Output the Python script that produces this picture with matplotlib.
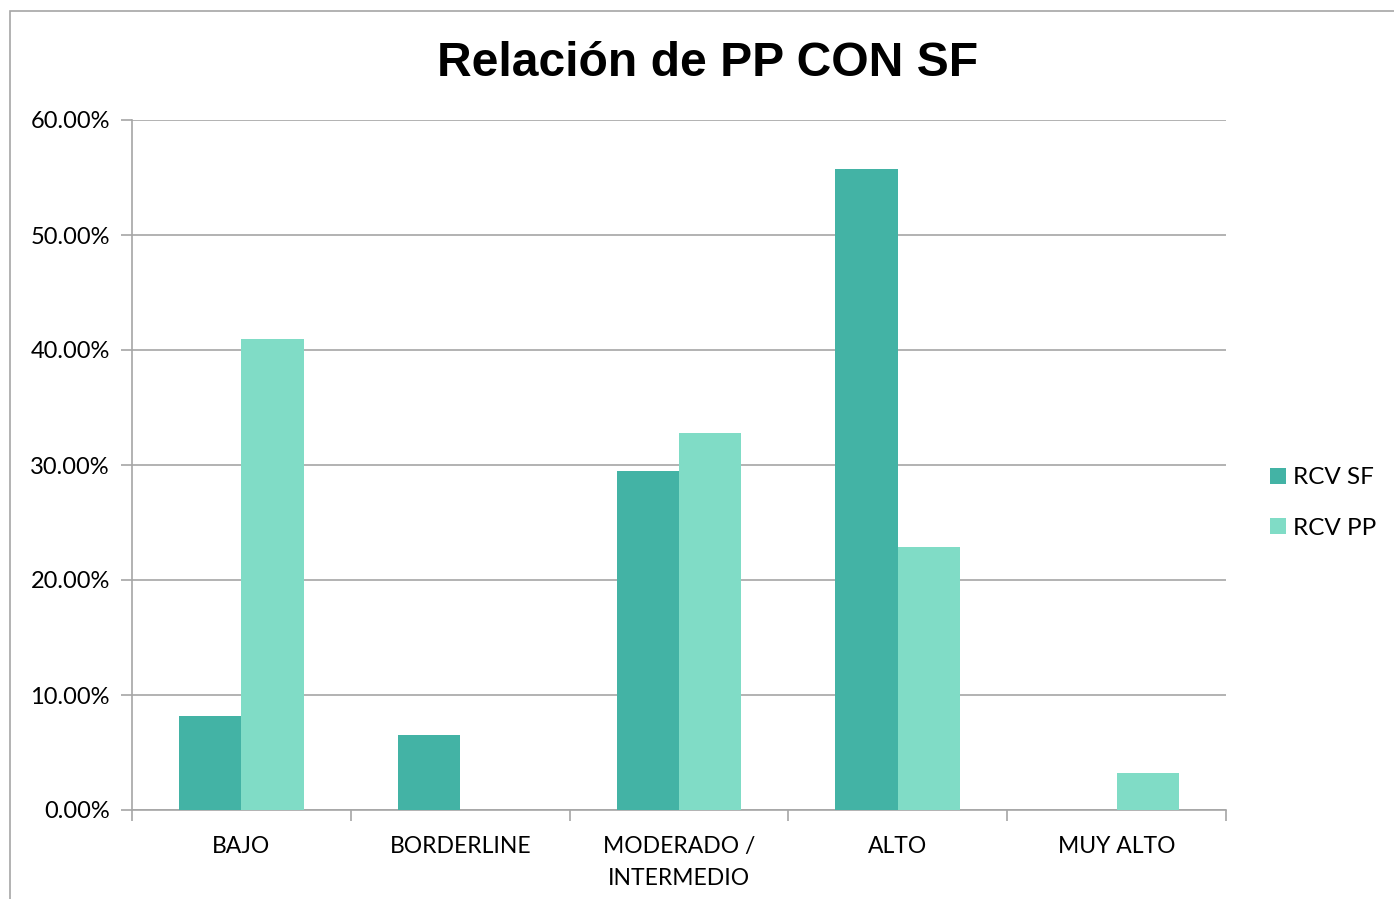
import matplotlib.pyplot as plt
import numpy as np
from matplotlib.patches import Rectangle

categories = ["BAJO", "BORDERLINE", "MODERADO /\nINTERMEDIO", "ALTO", "MUY ALTO"]
rcv_sf = [8.2, 6.5, 29.5, 55.7, 0.0]
rcv_pp = [41.0, 0.0, 32.8, 22.9, 3.2]
y_ticks = [0, 10, 20, 30, 40, 50, 60]

c_sf = "#43B3A5"
c_pp = "#80DCC6"
grey = "#A6A6A6"

fig = plt.figure(figsize=(13.94, 8.99), dpi=100)
fig.patches.append(Rectangle((10 / 1394, -0.1), 1.1, 1.1 - 11 / 899, transform=fig.transFigure,
                             fill=False, edgecolor=grey, linewidth=1.2))
ax = fig.add_axes([132 / 1394, 1 - 810 / 899, (1226 - 132) / 1394, (810 - 120) / 899])

x = np.arange(len(categories))
w = 0.285
ax.bar(x - w / 2, rcv_sf, w, color=c_sf, label="RCV SF", zorder=3)
ax.bar(x + w / 2, rcv_pp, w, color=c_pp, label="RCV PP", zorder=3)

ax.set_xlim(-0.5, len(categories) - 0.5)
ax.set_ylim(0, 60)
ax.set_yticks(y_ticks)
ax.set_yticklabels([f"{v:.2f}%" for v in y_ticks], fontsize=17, family="Lato")
ax.set_xticks(x)
ax.set_xticklabels(categories, fontsize=16.5, family="Lato", linespacing=1.6)
ax.set_xticks(np.arange(len(categories) + 1) - 0.5, minor=True)
ax.tick_params(axis="x", which="major", length=0, pad=19)
ax.tick_params(axis="x", which="minor", length=8, color=grey, width=1.2)
ax.tick_params(axis="y", length=8, color=grey, width=1.2, pad=8)

ax.grid(axis="y", color=grey, linewidth=1.2, zorder=0)
for s in ["top", "right"]:
    ax.spines[s].set_visible(False)
for s in ["left", "bottom"]:
    ax.spines[s].set_color(grey)
    ax.spines[s].set_linewidth(1.2)

fig.text(708 / 1394, 1 - 64 / 899, "Relación de PP CON SF", ha="center", va="center",
         fontsize=34.6, fontweight="bold", family="Liberation Sans")

ax.legend(loc="center left", bbox_to_anchor=(1.02, 0.445), frameon=False,
          prop={"family": "Lato", "size": 17.5}, handlelength=0.65, handleheight=0.65,
          handletextpad=0.3, labelspacing=1.2)

fig.savefig("out.png", dpi=100)
